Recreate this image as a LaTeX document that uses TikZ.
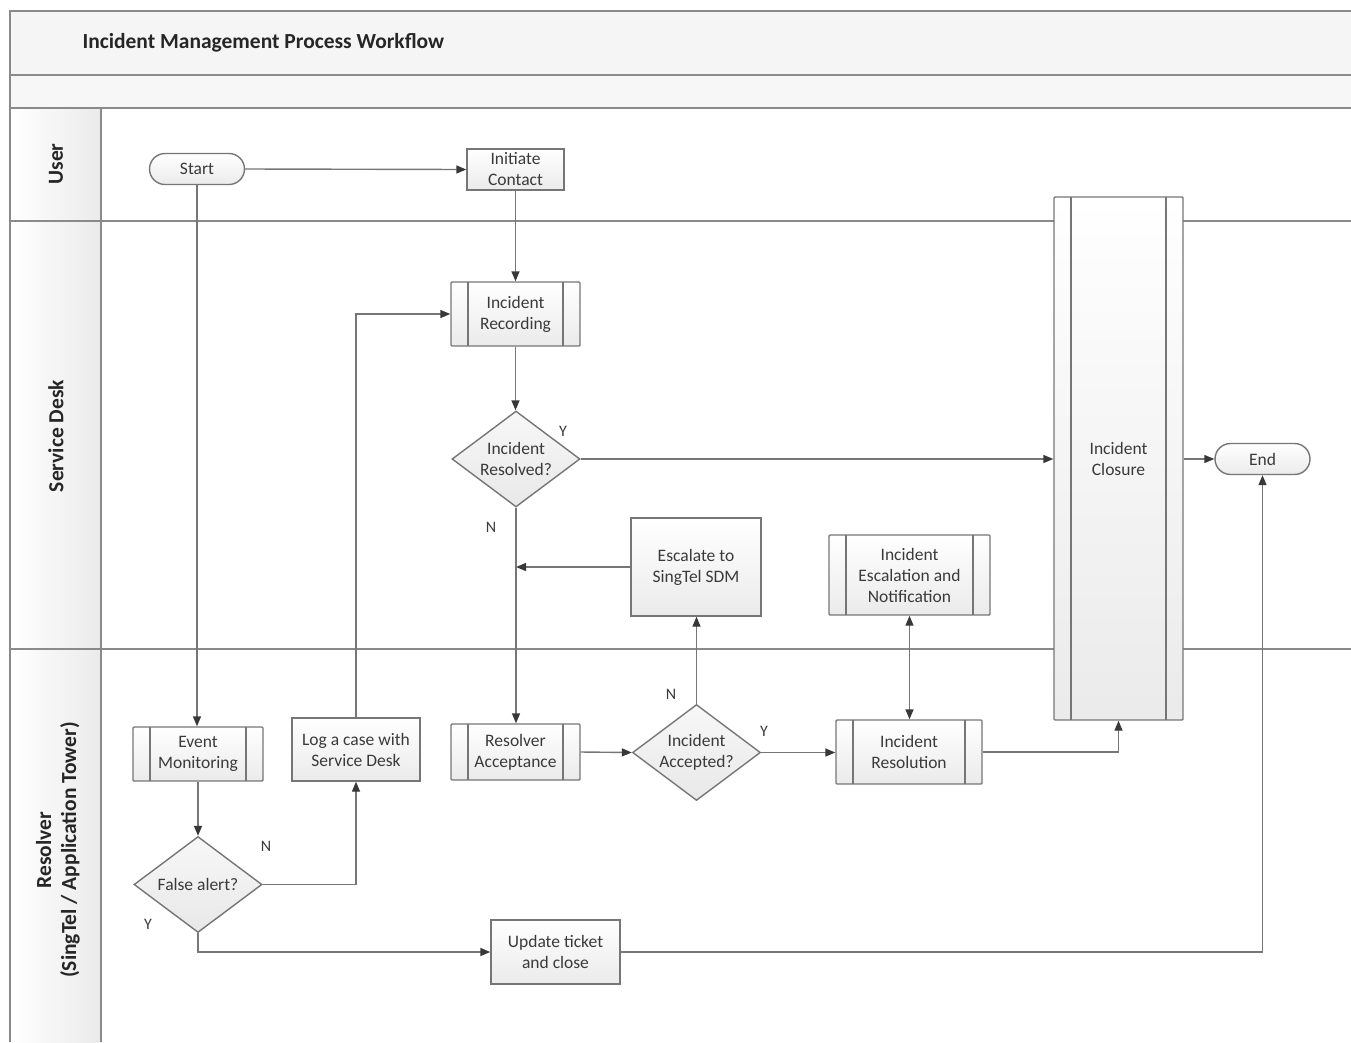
\documentclass[tikz,border=0pt]{standalone}
\usepackage{fontspec}
\setmainfont{Carlito}
\usetikzlibrary{arrows.meta,shapes.geometric,shapes.misc}
\definecolor{lnc}{HTML}{767676}
\definecolor{txc}{HTML}{3A3A3A}
\definecolor{frc}{HTML}{8A8A8A}
\tikzset{
  base/.style={draw=lnc, line width=1.4pt, top color=white, bottom color=black!8, text=txc,
    font=\fontsize{17.5}{21}\selectfont, align=center, inner sep=1pt},
  procbox/.style={base, rectangle, minimum width=#1},
  subproc/.style={base, rectangle, rounded corners=1pt,
    path picture={\draw[lnc, line width=1.4pt]
      ([xshift=17pt]path picture bounding box.north west) -- ([xshift=17pt]path picture bounding box.south west)
      ([xshift=-17pt]path picture bounding box.north east) -- ([xshift=-17pt]path picture bounding box.south east);}},
  term/.style={base, rounded rectangle, minimum width=97pt, minimum height=31pt},
  decis/.style={base, diamond, aspect=1.33, top color=black!3, bottom color=black!9, inner sep=-6pt, minimum width=128pt, minimum height=96pt},
  conn/.style={draw=lnc, line width=1.4pt, -{Triangle[length=10pt,width=8pt,color=black!78]}},
  yn/.style={text=txc, font=\fontsize{16}{16}\selectfont},
  lane/.style={text=black!85, font=\bfseries\fontsize{21.5}{25}\selectfont, rotate=90, align=center},
  frame/.style={draw=frc, line width=1.7pt}
}
\begin{document}
\begin{tikzpicture}[x=1pt,y=-1pt]
\useasboundingbox (0,0) rectangle (1351,1042);
% bands
\fill[black!4] (10,11) rectangle (1351,75);
\fill[black!3] (10,75) rectangle (1351,108);
\shade[left color=white, right color=black!8] (10,108) rectangle (101,1042);
\draw[frame] (1351,11) -- (10,11) -- (10,1042);
\draw[frame] (10,75) -- (1351,75);
\draw[frame] (10,108) -- (1351,108);
\draw[frame] (10,221) -- (1351,221);
\draw[frame] (10,649) -- (1351,649);
\draw[frame] (101,108) -- (101,1042);
\node[anchor=west, text=black!85, font=\bfseries\fontsize{21.5}{25}\selectfont] (title) at (79,43) {Incident Management Process Workflow};
\node[lane] (luser) at (56,164) {User};
\node[lane] (lsd) at (56,436) {Service Desk};
\node[lane] (lres) at (58,850) {Resolver\\(SingTel / Application Tower)};
% nodes
\node[term] (start) at (197,169) {Start};
\node[procbox=97pt, minimum height=41pt, rounded corners=0pt] (init) at (515.5,169.5) {Initiate\\Contact};
\node[subproc, minimum width=129pt, minimum height=64pt] (rec) at (515.5,314) {Incident\\Recording};
\node[decis] (res) at (516,459) {Incident\\Resolved?};
\node[procbox=130pt, minimum height=98pt] (esc) at (696,567) {Escalate to\\SingTel SDM};
\node[subproc, minimum width=161pt, minimum height=80pt] (escn) at (909.5,575) {Incident\\Escalation and\\Notification};
\node[subproc, minimum width=129pt, minimum height=523pt] (clo) at (1118.5,458.5) {Incident\\Closure};
\node[term] (end) at (1262.5,459) {End};
\node[subproc, minimum width=130pt, minimum height=54pt] (ev) at (198,754) {Event\\Monitoring};
\node[procbox=128pt, minimum height=63pt] (log) at (356,749.5) {Log a case with\\Service Desk};
\node[decis] (fa) at (198,884.5) {False alert?};
\node[subproc, minimum width=129pt, minimum height=56pt] (racc) at (515.5,752) {Resolver\\Acceptance};
\node[decis] (acc) at (696.5,752.5) {Incident\\Accepted?};
\node[subproc, minimum width=146pt, minimum height=64pt] (ires) at (909,752) {Incident\\Resolution};
\node[procbox=129pt, minimum height=64pt] (upd) at (555.5,952) {Update ticket\\and close};
% labels
\node[yn] (y1) at (563,431) {Y};
\node[yn] (n1) at (491,527) {N};
\node[yn] (n2) at (671,694) {N};
\node[yn] (y2) at (764,731) {Y};
\node[yn] (n3) at (266,846) {N};
\node[yn] (y3) at (148,924) {Y};
% connectors
\draw[conn] (start.east) -- (init.west);
\draw[conn] (start.south) -- (start.south |- ev.north);
\draw[conn] (init.south) -- (rec.north);
\draw[conn] (rec.south) -- (rec.south |- res.north);
\draw[conn] (res.east) -- (res.east -| clo.west);
\draw[conn] (res.south) -- (res.south |- racc.north);
\draw[conn] (esc.west) -- (esc.west -| res.south);
\draw[conn] (racc.east) -- (acc.west);
\draw[conn] (acc.north) -- (acc.north |- esc.south);
\draw[conn] (acc.east) -- (acc.east -| ires.west);
\draw[draw=lnc, line width=1.4pt, {Triangle[length=10pt,width=8pt,color=black!78]}-{Triangle[length=10pt,width=8pt,color=black!78]}] (escn.south) -- (escn.south |- ires.north);
\draw[conn] (ires.east) -| (clo.south);
\draw[conn] (clo.east |- end.west) -- (end.west);
\draw[conn] (ev.south) -- (ev.south |- fa.north);
\draw[conn] (fa.east) -| (log.south);
\draw[conn] (log.north) |- (rec.west);
\draw[conn] (fa.south) |- (upd.west);
\draw[conn] (upd.east) -| (end.south);
\end{tikzpicture}
\end{document}
